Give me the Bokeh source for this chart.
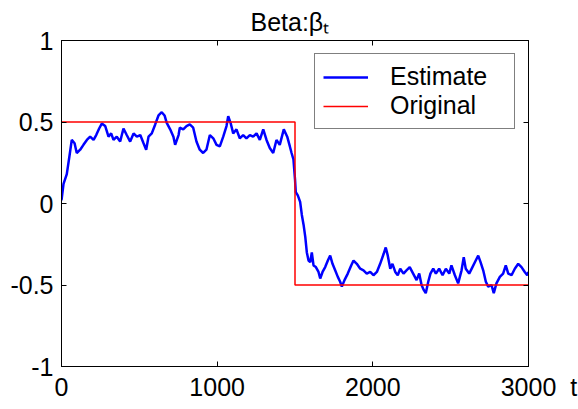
from bokeh.plotting import figure
from bokeh.models import Range1d, FixedTicker, LinearAxis, Legend, LegendItem, Title
from bokeh.embed import file_html
from bokeh.resources import INLINE

# Estimate series
est_t = [0, 13, 34, 51, 66, 84, 98, 120, 141, 163, 184, 206, 223, 242, 259, 281, 302, 319, 334, 355,
         377, 398, 419, 441, 463, 484, 506, 527, 544, 559, 580, 602, 623, 644, 662, 676, 698, 719, 730, 752,
         760, 782, 803, 824, 846, 867, 888, 910, 931, 953, 975, 996, 1017, 1039, 1060, 1071, 1086, 1103, 1124, 1145,
         1167, 1188, 1210, 1231, 1253, 1274, 1296, 1317, 1338, 1360, 1381, 1402, 1428, 1450, 1467, 1478, 1490, 1500,
         1505, 1518, 1533, 1544, 1555, 1566, 1576, 1587, 1598, 1608, 1619, 1634, 1651, 1662, 1677, 1694, 1711, 1726,
         1741, 1758, 1775, 1790, 1801, 1818, 1839, 1861, 1876, 1897, 1919, 1940, 1961, 1983, 2004, 2026, 2047, 2069,
         2083, 2096, 2112, 2126, 2144, 2160, 2176, 2197, 2216, 2237, 2259, 2281, 2298, 2313, 2327, 2340, 2356, 2370,
         2388, 2405, 2426, 2448, 2469, 2491, 2505, 2527, 2548, 2570, 2584, 2597, 2619, 2640, 2661, 2677, 2692, 2709,
         2726, 2741, 2762, 2777, 2794, 2816, 2837, 2854, 2870, 2891, 2912, 2934, 2955, 2976, 2992, 3000]
est_v = [0.02, 0.12, 0.18, 0.29, 0.39, 0.37, 0.31, 0.33, 0.36, 0.39, 0.41, 0.39, 0.42, 0.46, 0.49, 0.475, 0.41, 0.43, 0.39, 0.41,
         0.38, 0.46, 0.42, 0.38, 0.43, 0.41, 0.42, 0.37, 0.33, 0.41, 0.43, 0.485, 0.54, 0.56, 0.54, 0.495, 0.455, 0.41, 0.36, 0.42,
         0.465, 0.455, 0.475, 0.485, 0.465, 0.38, 0.33, 0.31, 0.33, 0.42, 0.40, 0.36, 0.35, 0.41, 0.475, 0.535, 0.495, 0.43, 0.455, 0.40,
         0.42, 0.40, 0.42, 0.41, 0.43, 0.39, 0.455, 0.39, 0.34, 0.31, 0.39, 0.36, 0.455, 0.41, 0.35, 0.31, 0.27, 0.15,
         0.07, 0.05, 0.01, -0.07, -0.13, -0.205, -0.30, -0.35, -0.36, -0.30, -0.38, -0.39, -0.42, -0.46, -0.42, -0.39, -0.35, -0.32,
         -0.37, -0.41, -0.45, -0.48, -0.51, -0.47, -0.43, -0.38, -0.35, -0.37, -0.40, -0.41, -0.43, -0.42, -0.44, -0.42, -0.37, -0.31,
         -0.27, -0.32, -0.40, -0.37, -0.42, -0.44, -0.40, -0.43, -0.41, -0.39, -0.43, -0.47, -0.43, -0.50, -0.53, -0.55, -0.48, -0.43,
         -0.40, -0.43, -0.40, -0.44, -0.40, -0.43, -0.38, -0.44, -0.49, -0.41, -0.33, -0.40, -0.43, -0.39, -0.35, -0.32, -0.36, -0.41,
         -0.48, -0.51, -0.50, -0.55, -0.49, -0.45, -0.43, -0.38, -0.43, -0.44, -0.40, -0.37, -0.39, -0.42, -0.44, -0.42]

# Original series
orig_t = [0, 1500, 1500, 3000]
orig_v = [0.5, 0.5, -0.5, -0.5]

NB = "\u00a0"
x_label = "t"
x_ticks = [0, 1000, 2000, 3000]
# the x-axis name "t" sits right of the last tick label (NBSP padding keeps "3000" centred on its tick)
x_tick_labels = ["0", "1000", "2000", NB * 3 + "3000" + NB * 2 + x_label]
y_ticks = [-1, -0.5, 0, 0.5, 1]
y_tick_labels = ["-1", "-0.5", "0", "0.5", "1"]

title_text = "Beta:\u03b2\u209c"
series_names = ["Estimate", "Original"]

FONT = "Liberation Sans"
FS = "25px"

p = figure(width=578, height=409, output_backend="svg", toolbar_location=None,
           x_range=Range1d(0, 3000), y_range=Range1d(-1, 1),
           min_border_left=61, min_border_right=50, min_border_top=40, min_border_bottom=43,
           background_fill_color="white", border_fill_color="white")
p.grid.visible = False
p.outline_line_color = "black"
p.outline_line_width = 1

p.title = Title(text=title_text, align="left", offset=189, standoff=9,
                text_font=FONT, text_font_size="25px", text_font_style="normal",
                text_color="black")

def style_axis(ax, ticks, labels, show_labels=True):
    ax.ticker = FixedTicker(ticks=ticks)
    ax.major_tick_in = 5
    ax.major_tick_out = 0
    ax.minor_tick_in = 0
    ax.minor_tick_out = 0
    ax.axis_line_color = "black"
    ax.major_tick_line_color = "black"
    ax.major_label_text_font = FONT
    if show_labels:
        ax.major_label_overrides = {t: l for t, l in zip(ticks, labels)}
        ax.major_label_text_font_size = FS
        ax.major_label_text_color = "black"
        ax.major_label_standoff = 6
    else:
        ax.major_label_text_font_size = "1px"
        ax.major_label_text_color = None
        ax.major_label_standoff = 0

style_axis(p.xaxis[0], x_ticks, x_tick_labels)
style_axis(p.yaxis[0], y_ticks, y_tick_labels)
p.yaxis[0].major_label_standoff = 8

top_ax = LinearAxis()
style_axis(top_ax, x_ticks, x_tick_labels, show_labels=False)
p.add_layout(top_ax, "above")
right_ax = LinearAxis()
style_axis(right_ax, y_ticks, y_tick_labels, show_labels=False)
p.add_layout(right_ax, "right")

r_est = p.line(est_t, est_v, line_color="#0000FF", line_width=2.5)
r_orig = p.line(orig_t, orig_v, line_color="#FF0000", line_width=1.5)

legend = Legend(items=[LegendItem(label=series_names[0], renderers=[r_est]),
                       LegendItem(label=series_names[1], renderers=[r_orig])],
                location="top_right", margin=13, padding=8, spacing=0,
                glyph_width=45, glyph_height=20, label_standoff=22, label_height=26, label_width=116,
                label_text_font=FONT, label_text_font_size=FS, label_text_color="black",
                border_line_color="black", border_line_width=1,
                background_fill_color="white", background_fill_alpha=1)
p.add_layout(legend, "center")

open("out.html", "w").write(file_html(p, INLINE))
